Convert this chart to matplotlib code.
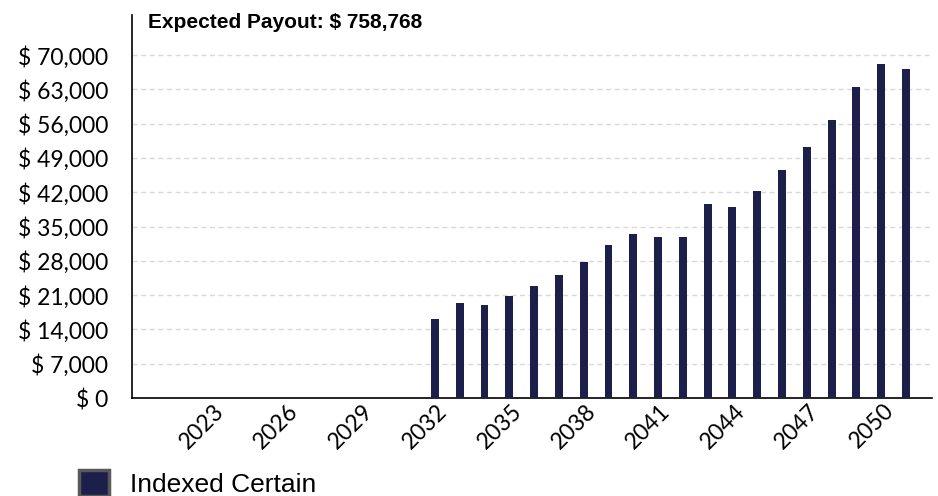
import matplotlib
matplotlib.use("Agg")
import matplotlib.pyplot as plt
from matplotlib.patches import Patch
from matplotlib.ticker import FuncFormatter
import matplotlib.transforms as mtransforms

# payout per year
years = list(range(2032, 2052))
payout = [16150, 19430, 19020, 20860, 22900, 25150, 27870, 31290, 33540, 32920,
          32920, 39670, 39060, 42330, 46630, 51330, 56850, 63600, 68100, 67080]
tick_years = [2023, 2026, 2029, 2032, 2035, 2038, 2041, 2044, 2047, 2050]
y_ticks = list(range(0, 70001, 7000))
series_name = "Indexed Certain"
title = "Expected Payout: $ 758,768"

bar_color = "#1b1f4a"
lbl_font = "Lato"

fig = plt.figure(figsize=(9.38, 4.96), dpi=100)
ax = fig.add_axes([132/938, 1 - 398/496, 800/938, 383/496])

ax.bar(years, payout, width=0.32, color=bar_color, zorder=3)

ax.set_xlim(2019.78, 2052.05)
ax.set_ylim(0, 78200)

ax.set_yticks(y_ticks)
ax.yaxis.set_major_formatter(FuncFormatter(lambda v, p: "$ {:,.0f}".format(v)))
ax.set_xticks(tick_years)
ax.set_xticklabels([str(y) for y in tick_years], rotation=45, ha="right",
                   rotation_mode="anchor", va="center")
ax.tick_params(axis="y", length=0, pad=17, labelsize=16.5)
ax.tick_params(axis="x", length=0, pad=4, labelsize=16.5)
for t in ax.get_yticklabels() + ax.get_xticklabels():
    t.set_fontfamily(lbl_font)
# nudge x labels a bit to the right of the bars
off = mtransforms.ScaledTranslation(9/100, -4/100, fig.dpi_scale_trans)
for t in ax.get_xticklabels():
    t.set_transform(t.get_transform() + off)

for v in y_ticks[1:]:
    ax.axhline(v, color="#d9d9d9", lw=1, ls=(0, (3.6, 2.6)), zorder=1)

for s in ["top", "right"]:
    ax.spines[s].set_visible(False)
ax.spines["left"].set_linewidth(1.2)
ax.spines["bottom"].set_linewidth(1.2)

ax.text(148/938, 1 - 28/496, title, transform=fig.transFigure,
        fontfamily="Liberation Sans", fontweight="bold", fontsize=15,
        ha="left", va="baseline")

handle = Patch(facecolor=bar_color, edgecolor="#595959", linewidth=2.5)
fig.legend(handles=[handle], labels=[series_name], loc="upper left",
           bbox_to_anchor=(79/938, 1 - 470/496), frameon=False,
           prop={"family": "Liberation Sans", "size": 19},
           handlelength=1.12, handleheight=1.12, handletextpad=0.82,
           borderpad=0, borderaxespad=0)

fig.savefig("out.png", dpi=100)
